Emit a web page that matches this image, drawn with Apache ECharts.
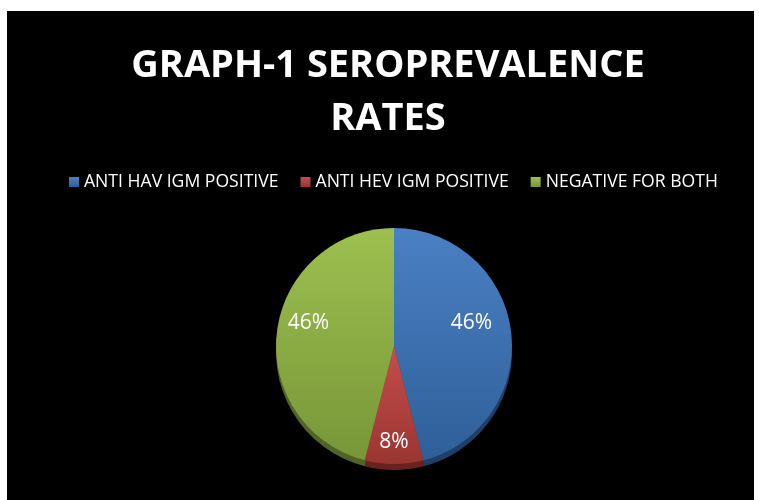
<!DOCTYPE html>
<html>
<head>
<meta charset="utf-8">
<script src="https://cdn.jsdelivr.net/npm/echarts@6/dist/echarts.min.js"></script>
<style>
	html, body { margin: 0; padding: 0; background: #fff; }
	#chart { position: absolute; left: 7px; top: 11px; width: 747px; height: 489px; background: #000; }
</style>
</head>
<body>
<div id="chart"></div>
<script>
const categories = ["ANTI HAV IGM POSITIVE", "ANTI HEV IGM POSITIVE", "NEGATIVE FOR BOTH"];
const values = [46, 8, 46];
const lightColors = ["#4a80c4", "#c44e4b", "#9dc050"];
const darkColors = ["#2f5f99", "#9a3532", "#789638"];
const rimColors = ["#1f3f66", "#6a2220", "#4f6425"];
// label nudges to match the reference placement
const labelShift = [[16, -15], [0, 34], [-24, -15]];

function grad(i) {
	return new echarts.graphic.LinearGradient(0, 0, 0, 1, [
		{ offset: 0, color: lightColors[i] },
		{ offset: 1, color: darkColors[i] }
	]);
}

const chart = echarts.init(document.getElementById("chart"));
chart.setOption({
	backgroundColor: "#000",
	animation: false,
	title: {
		text: "GRAPH-1 SEROPREVALENCE\nRATES",
		left: 376,
		top: 24,
		textAlign: "center",
		textStyle: {
			color: "#fff",
			fontFamily: "Open Sans",
			fontWeight: "bold",
			fontSize: 38,
			lineHeight: 53
		}
	},
	legend: {
		data: categories,
		left: 57,
		top: 157,
		icon: "rect",
		itemWidth: 10,
		itemHeight: 10,
		itemGap: 22,
		itemStyle: { borderWidth: 0 },
		textStyle: { color: "#fff", fontFamily: "Open Sans", fontSize: 17.6 }
	},
	series: [
		{
			type: "pie",
			center: [387, 335],
			radius: 118,
			startAngle: 90,
			clockwise: true,
			z: 2,
			itemStyle: { borderWidth: 0 },
			label: {
				show: true,
				position: "inside",
				formatter: "{d}%",
				color: "#fff",
				fontFamily: "Open Sans",
				fontSize: 21
			},
			labelLayout: function (params) {
				const s = labelShift[params.dataIndex];
				return { dx: s[0], dy: s[1] };
			},
			data: categories.map((c, i) => ({
				name: c,
				value: values[i],
				itemStyle: { color: grad(i) }
			}))
		},
		{
			// darker copy underneath gives the 3-D rim
			type: "pie",
			silent: true,
			center: [387, 341],
			radius: 118,
			startAngle: 90,
			clockwise: true,
			z: 1,
			label: { show: false },
			labelLine: { show: false },
			data: categories.map((c, i) => ({
				name: c,
				value: values[i],
				itemStyle: { color: rimColors[i] }
			}))
		}
	]
});
</script>
</body>
</html>
